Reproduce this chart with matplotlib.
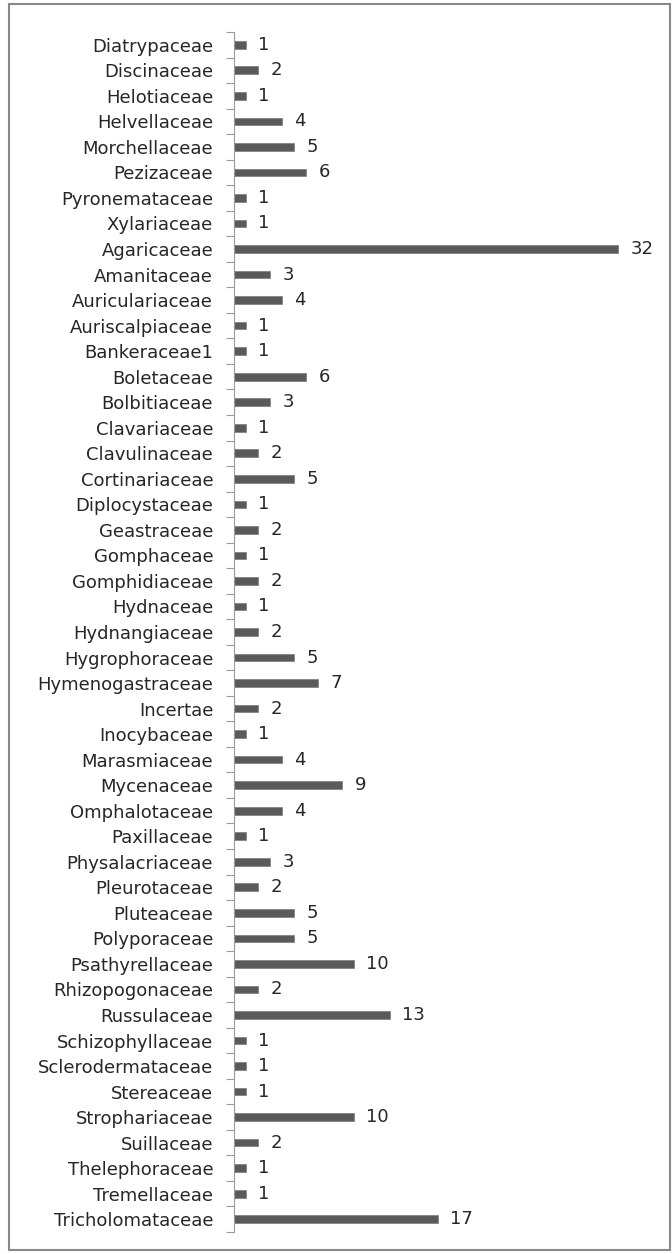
import matplotlib.pyplot as plt
import numpy as np
from matplotlib.patches import Rectangle

# Families and counts, top to bottom as in the chart
families = [
    'Diatrypaceae', 'Discinaceae', 'Helotiaceae', 'Helvellaceae', 'Morchellaceae',
    'Pezizaceae', 'Pyronemataceae', 'Xylariaceae', 'Agaricaceae', 'Amanitaceae',
    'Auriculariaceae', 'Auriscalpiaceae', 'Bankeraceae1', 'Boletaceae', 'Bolbitiaceae',
    'Clavariaceae', 'Clavulinaceae', 'Cortinariaceae', 'Diplocystaceae', 'Geastraceae',
    'Gomphaceae', 'Gomphidiaceae', 'Hydnaceae', 'Hydnangiaceae', 'Hygrophoraceae',
    'Hymenogastraceae', 'Incertae', 'Inocybaceae', 'Marasmiaceae', 'Mycenaceae',
    'Omphalotaceae', 'Paxillaceae', 'Physalacriaceae', 'Pleurotaceae', 'Pluteaceae',
    'Polyporaceae', 'Psathyrellaceae', 'Rhizopogonaceae', 'Russulaceae', 'Schizophyllaceae',
    'Sclerodermataceae', 'Stereaceae', 'Strophariaceae', 'Suillaceae', 'Thelephoraceae',
    'Tremellaceae', 'Tricholomataceae',
]
counts = [
    1, 2, 1, 4, 5,
    6, 1, 1, 32, 3,
    4, 1, 1, 6, 3,
    1, 2, 5, 1, 2,
    1, 2, 1, 2, 5,
    7, 2, 1, 4, 9,
    4, 1, 3, 2, 5,
    5, 10, 2, 13, 1,
    1, 1, 10, 2, 1,
    1, 17,
]

plt.rcParams['font.family'] = ['DejaVu Sans']

fig = plt.figure(figsize=(6.72, 12.54), dpi=100)
ax = fig.add_axes([234 / 672, 22 / 1254, 420 / 672, 1200 / 1254])

pos = np.arange(len(families))
rects = ax.barh(pos, counts, height=0.3, color='#5a5a5a', edgecolor='#7a7a7a', linewidth=0.5)

ax.set_ylim(len(families) - 0.5, -0.5)
ax.set_xlim(0, 35)

# Category labels, ticks sit between categories like in Excel
ax.set_yticks(pos)
ax.set_yticklabels(families, fontsize=13, color='#262626')
ax.tick_params(axis='y', which='major', length=0, pad=15)
ax.set_yticks(np.arange(-0.5, len(families), 1), minor=True)
ax.tick_params(axis='y', which='minor', length=6, width=0.8, color='#999999', direction='out')
ax.set_xticks([])

for side in ['top', 'right', 'bottom']:
    ax.spines[side].set_visible(False)
ax.spines['left'].set_color('#999999')
ax.spines['left'].set_linewidth(0.8)

# Value labels at the end of each bar
for rect, v in zip(rects, counts):
    ax.annotate(str(v), (rect.get_width(), rect.get_y() + rect.get_height() / 2),
                xytext=(9, 0), textcoords='offset points', va='center', ha='left',
                fontsize=13, color='#262626')

# Outer chart border
fig.patches.append(Rectangle((9 / 672, 4 / 1254), 661 / 672, 1246 / 1254,
                             transform=fig.transFigure, fill=False,
                             edgecolor='#888888', linewidth=1.5))

fig.savefig('out.png', dpi=100)
